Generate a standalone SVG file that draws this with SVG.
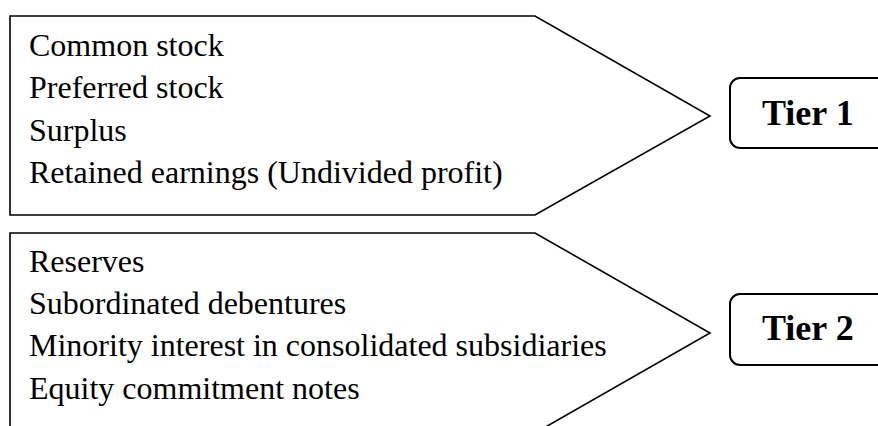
<svg xmlns="http://www.w3.org/2000/svg" width="878" height="426" viewBox="0 0 878 426">
<style>
.shape{fill:#fff;stroke:#000;stroke-width:1.6}
.tier{fill:#fff;stroke:#000;stroke-width:2}
.t{font-family:"Liberation Serif","Times New Roman",serif;font-size:32px;fill:#000}
.tb{font-family:"Liberation Serif","Times New Roman",serif;font-size:36px;font-weight:bold;fill:#000}
</style>
<rect width="878" height="426" fill="#fff"/>
<g id="tier1-items">
<polygon class="shape" points="10,16 535,16 710,116 535,215 10,215"/>
<text class="t" x="29" y="56">Common stock</text>
<text class="t" x="29" y="98">Preferred stock</text>
<text class="t" x="29" y="141">Surplus</text>
<text class="t" x="29" y="183">Retained earnings (Undivided profit)</text>
</g>
<g id="tier2-items">
<polygon class="shape" points="10,233 535,233 710,333 535,433 10,433"/>
<text class="t" x="29" y="272">Reserves</text>
<text class="t" x="29" y="314">Subordinated debentures</text>
<text class="t" x="29" y="356">Minority interest in consolidated subsidiaries</text>
<text class="t" x="29" y="399">Equity commitment notes</text>
</g>
<g id="tier1">
<rect class="tier" x="730" y="78" width="170" height="70" rx="10"/>
<text class="tb" x="762" y="125">Tier 1</text>
</g>
<g id="tier2">
<rect class="tier" x="730" y="294" width="170" height="71" rx="10"/>
<text class="tb" x="762" y="340">Tier 2</text>
</g>
<g id="connectors"></g>
</svg>
